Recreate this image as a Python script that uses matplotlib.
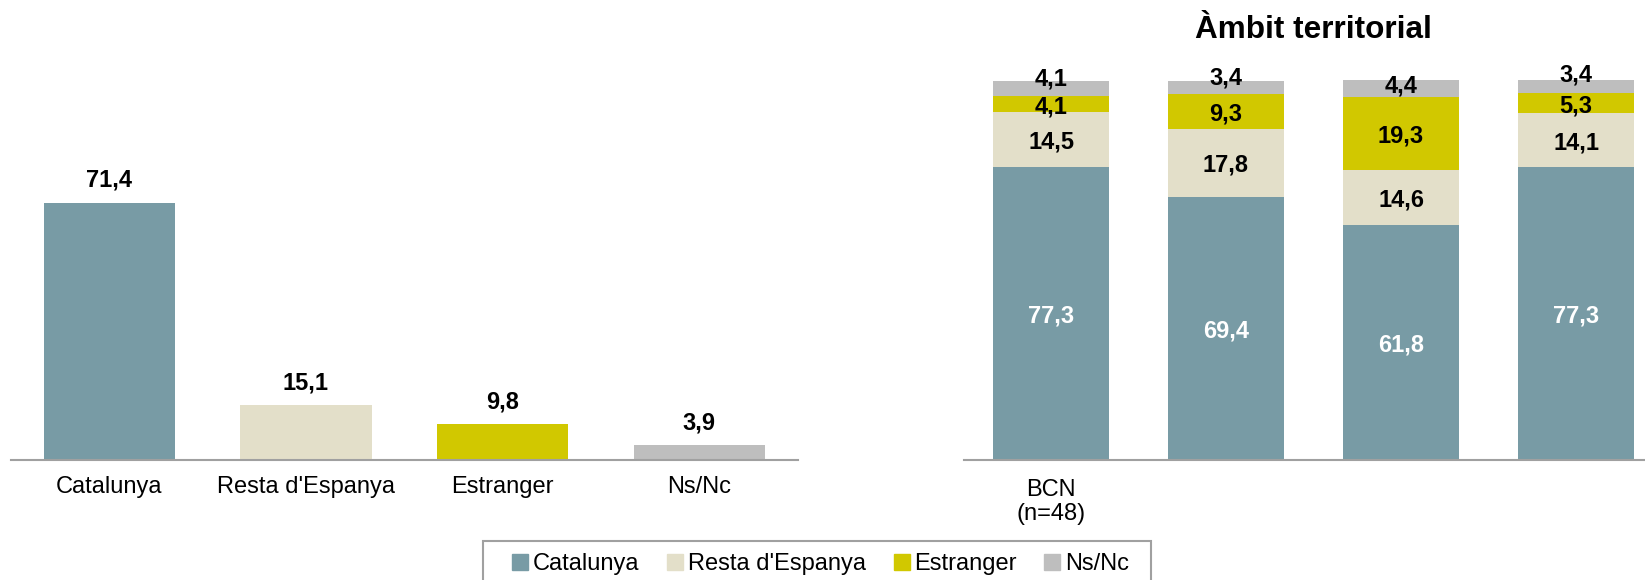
import matplotlib
matplotlib.use("Agg")
import matplotlib.pyplot as plt
from matplotlib.lines import Line2D
from matplotlib.patches import Rectangle

plt.rcParams['font.family'] = ['Liberation Sans', 'DejaVu Sans']

# ---- data ----
origin_categories = ["Catalunya", "Resta d'Espanya", "Estranger", "Ns/Nc"]
origin_total = [71.4, 15.1, 9.8, 3.9]

territory_labels = ["BCN\n(n=48)", "", "", ""]
terr_catalunya = [77.3, 69.4, 61.8, 77.3]
terr_resta = [14.5, 17.8, 14.6, 14.1]
terr_estranger = [4.1, 9.3, 19.3, 5.3]
terr_nsnc = [4.1, 3.4, 4.4, 3.4]

title_right = "Àmbit territorial"

# ---- style ----
colors = ["#789BA5", "#E3DFC9", "#D1C800", "#BEBEBE"]
label_colors = ["white", "black", "black", "black"]
axis_color = "#A0A0A0"
FS = 17
W, H = 1645, 580


def rect(l, t, r, b):
    return [l / W, 1 - b / H, (r - l) / W, (b - t) / H]


def fmt(v):
    return f"{v:.1f}".replace(".", ",")


fig = plt.figure(figsize=(W / 100, H / 100), dpi=100)

# ---- left chart ----
ax1 = fig.add_axes(rect(11, 60, 797.5, 459.5))
x1 = list(range(len(origin_categories)))
ax1.bar(x1, origin_total, width=0.667, color=colors)
for i, v in enumerate(origin_total):
    ax1.annotate(fmt(v), (x1[i], v), xytext=(0, 11.5), textcoords="offset points",
                 ha="center", va="baseline", fontsize=FS, fontweight="bold")
ax1.set_xlim(-0.5, 3.5)
ax1.set_ylim(0, 399.5 / 3.597)
ax1.set_xticks(x1)
ax1.set_xticklabels(origin_categories)
ax1.tick_params(axis="x", length=0, pad=12, labelsize=FS)
ax1.set_yticks([])
for s in ["top", "left", "right"]:
    ax1.spines[s].set_visible(False)
ax1.spines["bottom"].set_color(axis_color)
ax1.spines["bottom"].set_linewidth(1.5)

# ---- right chart ----
ax2 = fig.add_axes(rect(963.5, 80.8, 1663.5, 459.5))
x2 = list(range(len(territory_labels)))
series = [terr_catalunya, terr_resta, terr_estranger, terr_nsnc]
bottoms = [0.0] * len(x2)
gray_raise_px = [12, 12, 5, 14]
for si, vals in enumerate(series):
    ax2.bar(x2, vals, bottom=bottoms, width=0.663, color=colors[si], clip_on=False)
    for i, v in enumerate(vals):
        yc = bottoms[i] + v / 2
        off = gray_raise_px[i] * 0.72 if si == 3 else 0
        ax2.annotate(fmt(v), (x2[i], yc), xytext=(0, off), textcoords="offset points",
                     ha="center", va="center_baseline", fontsize=FS, fontweight="bold",
                     color=label_colors[si], annotation_clip=False)
    bottoms = [b + v for b, v in zip(bottoms, vals)]
ax2.set_xlim(-0.5, 3.5)
ax2.set_ylim(0, 100)
ax2.set_xticks(x2)
ax2.set_xticklabels(territory_labels)
ax2.tick_params(axis="x", length=0, pad=14, labelsize=FS)
for tl in ax2.get_xticklabels():
    tl.set_linespacing(1.1)
ax2.set_yticks([])
for s in ["top", "left", "right"]:
    ax2.spines[s].set_visible(False)
ax2.spines["bottom"].set_color(axis_color)
ax2.spines["bottom"].set_linewidth(1.5)
ax2.set_title(title_right, fontsize=22.7, fontweight="bold", pad=31)

# ---- legend ----
handles = [Line2D([], [], marker="s", linestyle="", markersize=11, color=c) for c in colors]
fig.legend(handles, origin_categories, loc="upper left",
           bbox_to_anchor=(512.6 / W, 1 - 553 / H), ncol=4, frameon=False,
           fontsize=FS, handlelength=0.65, handletextpad=0.2, columnspacing=1.2,
           borderpad=0, borderaxespad=0)
fig.add_artist(Rectangle((482.5 / W, 1 - 620 / H), (1151 - 482.5) / W, (620 - 540.7) / H,
                         transform=fig.transFigure, fill=False, edgecolor=axis_color,
                         linewidth=1.5))

fig.savefig("out.png", dpi=100)
